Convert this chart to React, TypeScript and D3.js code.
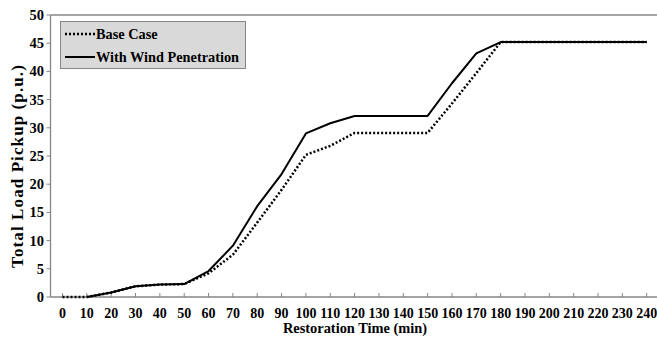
import React from "react";
import * as d3 from "d3";

// restoration time (min)
const times = [0, 10, 20, 30, 40, 50, 60, 70, 80, 90, 100, 110, 120, 130, 140, 150, 160, 170, 180, 190, 200, 210, 220, 230, 240];
const baseCase = [0, 0, 0.8, 1.9, 2.2, 2.3, 4.2, 7.5, 13.2, 19.0, 25.2, 26.8, 29.1, 29.1, 29.1, 29.1, 34.3, 39.7, 45.2, 45.2, 45.2, 45.2, 45.2, 45.2, 45.2];
const withWind = [null, 0, 0.8, 1.9, 2.2, 2.3, 4.6, 9.1, 16.1, 21.8, 29.0, 30.8, 32.1, 32.1, 32.1, 32.1, 37.9, 43.2, 45.2, 45.2, 45.2, 45.2, 45.2, 45.2, 45.2];
const yTicks = [0, 5, 10, 15, 20, 25, 30, 35, 40, 45, 50];

const W = 657;
const H = 337;
const FONT = "'Liberation Serif', 'Times New Roman', serif";
const AXIS = "#868686";

export default function App() {
  const left = 50.5;
  const top = 15;
  const bottom = 297;

  const x = d3.scaleLinear().domain([0, 240]).range([62.5, 646.7]);
  const y = d3.scaleLinear().domain([0, 50]).range([bottom, top]);

  const line = d3
    .line<[number, number | null]>()
    .defined((d) => d[1] != null)
    .x((d) => x(d[0]))
    .y((d) => y(d[1] as number));

  const basePath = line(times.map((t, i) => [t, baseCase[i]]));
  const windPath = line(times.map((t, i) => [t, withWind[i]]));

  return (
    <div style={{ position: "fixed", left: 0, top: 0 }}>
      <svg width={W} height={H} style={{ display: "block", background: "#fff" }}>
        {/* plot border top */}
        <line x1={left} x2={W} y1={top} y2={top} stroke={AXIS} strokeWidth={1.5} />

        {/* y axis */}
        <line x1={left} x2={left} y1={top} y2={bottom} stroke={AXIS} strokeWidth={1.3} />
        {yTicks.map((t) => (
          <g key={t}>
            <line x1={left - 4} x2={left} y1={y(t)} y2={y(t)} stroke={AXIS} strokeWidth={1} />
            <text
              x={44}
              y={y(t)}
              dy="0.35em"
              textAnchor="end"
              fontFamily={FONT}
              fontWeight="bold"
              fontSize={14.5}
              fill="#000"
            >
              {t}
            </text>
          </g>
        ))}

        {/* x axis */}
        <line x1={left} x2={W} y1={bottom} y2={bottom} stroke={AXIS} strokeWidth={1.3} />
        {times.map((t) => (
          <g key={t}>
            <line x1={x(t)} x2={x(t)} y1={bottom - 4} y2={bottom} stroke={AXIS} strokeWidth={1} />
            <text
              x={x(t)}
              y={318}
              textAnchor="middle"
              fontFamily={FONT}
              fontWeight="bold"
              fontSize={14}
              fill="#000"
            >
              {t}
            </text>
          </g>
        ))}

        {/* axis titles */}
        <text
          x={355}
          y={332.5}
          textAnchor="middle"
          fontFamily={FONT}
          fontWeight="bold"
          fontSize={14.4}
          fill="#000"
        >
          Restoration Time (min)
        </text>
        <text
          transform={`translate(23,166) rotate(-90)`}
          textAnchor="middle"
          fontFamily={FONT}
          fontWeight="bold"
          fontSize={17}
          letterSpacing={1.1}
          fill="#000"
        >
          Total Load Pickup (p.u.)
        </text>

        {/* series */}
        <path d={windPath ?? ""} fill="none" stroke="#000" strokeWidth={2} strokeLinejoin="round" />
        <path d={basePath ?? ""} fill="none" stroke="#000" strokeWidth={2.5} strokeDasharray="2,2" />

        {/* legend */}
        <rect x={60.5} y={21.5} width={185} height={47} fill="#d9d9d9" stroke={AXIS} strokeWidth={1} />
        <line x1={65} x2={95} y1={34} y2={34} stroke="#000" strokeWidth={2.5} strokeDasharray="2,2" />
        <text x={96} y={34} dy="0.35em" fontFamily={FONT} fontWeight="bold" fontSize={14.3} fill="#000">
          Base Case
        </text>
        <line x1={65} x2={95} y1={57} y2={57} stroke="#000" strokeWidth={2} />
        <text x={96} y={57} dy="0.35em" fontFamily={FONT} fontWeight="bold" fontSize={14.3} fill="#000">
          With Wind Penetration
        </text>
      </svg>
    </div>
  );
}
